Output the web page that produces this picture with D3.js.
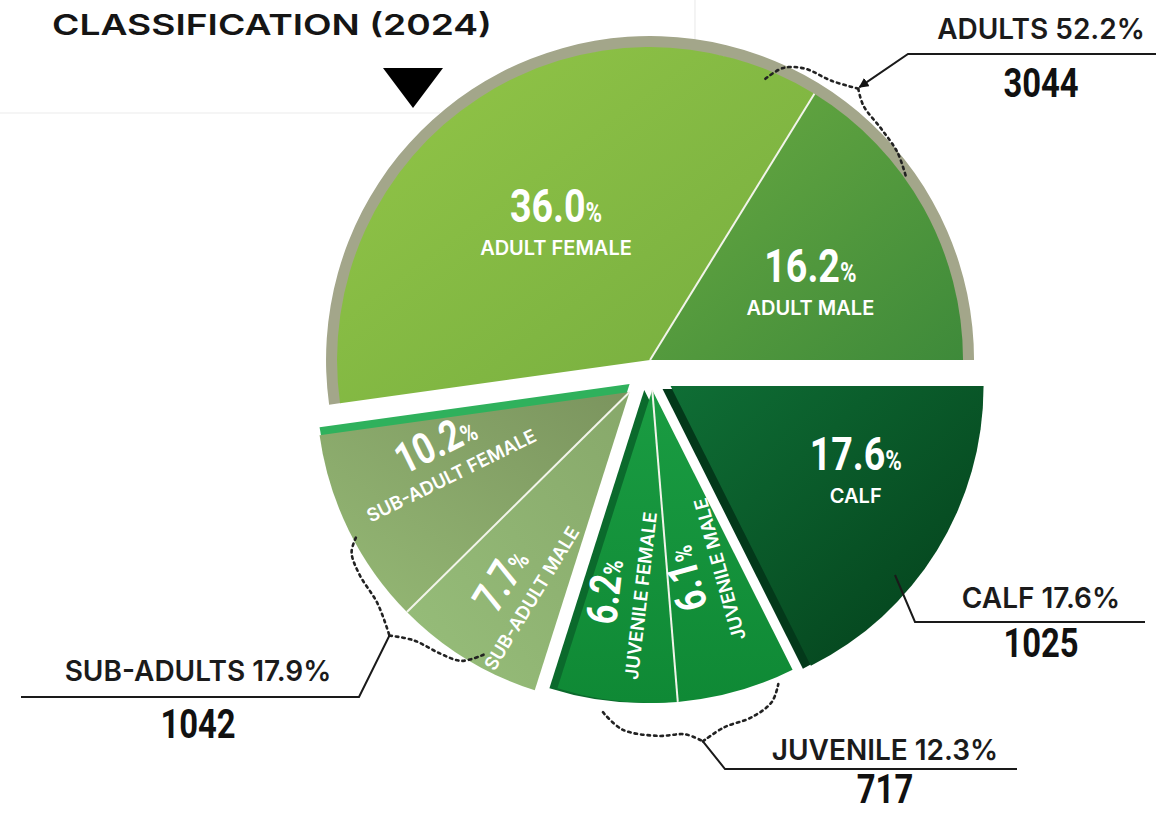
<!DOCTYPE html>
<html>
<head>
<meta charset="utf-8">
<script src="https://cdn.jsdelivr.net/npm/d3@7"></script>
<style>
  html, body { margin: 0; padding: 0; background: #fff; }
  svg { display: block; }
  .cap { font-family: Inter, "Noto Sans", sans-serif; font-weight: 600; }
  .num { font-family: Roboto, "DejaVu Sans Condensed", sans-serif; font-weight: 700; }
</style>
</head>
<body>
<svg id="chart" width="1156" height="814"></svg>
<script>
// ─── DATA ─────────────────────────────────────
const groupNames = ["ADULTS", "CALF", "JUVENILE", "SUB-ADULTS"];
const groupPct   = [52.2, 17.6, 12.3, 17.9];
const groupCount = [3044, 1025, 717, 1042];

// clockwise from the adult female edge
const sliceNames = ["ADULT FEMALE", "ADULT MALE", "CALF", "JUVENILE MALE", "JUVENILE FEMALE", "SUB-ADULT MALE", "SUB-ADULT FEMALE"];
const slicePct   = [36.0, 16.2, 17.6, 6.1, 6.2, 7.7, 10.2];
const sliceGroup = [0, 0, 1, 2, 2, 3, 3];

// ─── LAYOUT / STYLE ───────────────────────────
const W = 1156, H = 814;
const CX = 651, CY = 374, R = 313;
const EXPLODE     = [14, 23, 16, 28];          // group offset along its mid angle
const ROTATE      = [false, false, true, true];
// per slice: label radius as share of R, and a nudge
const LABEL_K     = [0.55, 0.55, 0.62, 0.66, 0.7, 0.72, 0.62];
const LABEL_SHIFT = [[0, 8], [10, 8], [20, -16], [-5, -15], [-4, -14], [5, 5], [-12, -18]];
const RIM = 11;
const NUM_SX = 0.8;                            // condensed look for the figures

const SLICE_GRAD = [
  { c: ["#93c647", "#74ac3f"], v: [0, 0, 1, 1] },
  { c: ["#6aaa41", "#3e8a3a"], v: [0, 0, 1, 1] },
  { c: ["#0f6e35", "#033e1a"], v: [0, 0, 1, 1] },
  { c: ["#1a9c42", "#0f8935"], v: [0, 0, 0, 1] },
  { c: ["#1a9c42", "#0f8935"], v: [0, 0, 0, 1] },
  { c: ["#97be7a", "#87a86a"], v: [0, 1, 1, 0] },
  { c: ["#95b975", "#7b945e"], v: [0, 1, 1, 0] }
];
const SIDE = [
  null,
  { fill: "#03391a", dx: -8, dy: 3 },
  { fill: "#0b6a2c", dx: -8, dy: 0 },
  { fill: "#2fb15c", dx: 0, dy: -8 }
];

// brace shapes: [angleDeg, offset from R] around each group apex (left arm, right arm)
const BRACES = [
  [[[22.3, -9], [24.5, 8], [28, 17], [33, 20], [37.5, 29]], [[37.5, 29], [40, 19], [45, 14], [50, 10], [54.8, 1]]],
  null,
  [[[188.7, 13], [185, 28], [179, 33], [174.5, 33], [171.8, 42]], [[171.8, 42], [168, 32], [163, 29], [159, 21], [156.8, 7]]],
  [[[242, -3], [240, 8], [236, 13], [230, 16], [224.6, 29]], [[224.6, 29], [221, 16], [216, 10], [212, 4], [209, -13]]]
];
const LEADERS = [
  [[908, 54], [1156, 54]],
  [[895, 575], [915, 622], [1145, 622]],
  [[725, 769], [1017, 769]],
  [[359, 697], [21, 697]]
];
const CALLOUT_TXT = [
  { x: 1041, y: 39, ny: 97 },
  { x: 1041, y: 608, ny: 657 },
  { x: 885, y: 760, ny: 803 },
  { x: 198, y: 681, ny: 738 }
];

// ─── SETUP ────────────────────────────────────
const svg = d3.select("#chart").attr("viewBox", `0 0 ${W} ${H}`);
const defs = svg.append("defs");

const startA = Math.PI / 2 - 2 * Math.PI * groupPct[0] / 100;
const pie = d3.pie().sort(null).value(d => d)
  .startAngle(startA).endAngle(startA + 2 * Math.PI);
const slices = pie(slicePct);

const groupArcs = groupNames.map((g, i) => {
  const s = slices.filter((d, j) => sliceGroup[j] === i);
  return { startAngle: d3.min(s, d => d.startAngle), endAngle: d3.max(s, d => d.endAngle) };
});
const polar = (a, r) => [r * Math.sin(a), -r * Math.cos(a)];
const apex = groupArcs.map((g, i) => {
  const [dx, dy] = polar((g.startAngle + g.endAngle) / 2, EXPLODE[i]);
  return [CX + dx, CY + dy];
});
const deg = Math.PI / 180;
const at = (gi, aDeg, off) => {
  const [dx, dy] = polar(aDeg * deg, R + off);
  return [apex[gi][0] + dx, apex[gi][1] + dy];
};

const arc = d3.arc().innerRadius(0).outerRadius(R);

// condensed figure text: group scaled on x only
function numText(parent, x, y, size, fill) {
  return parent.append("g")
    .attr("transform", `translate(${x},${y}) scale(${NUM_SX},1)`)
    .append("text").attr("class", "num").attr("text-anchor", "middle")
    .attr("font-size", size).attr("fill", fill);
}

// faint frame lines of the title box
svg.append("line").attr("x1", 0).attr("x2", 440).attr("y1", 113).attr("y2", 113)
  .attr("stroke", "#ececec").attr("stroke-width", 1.2);
svg.append("line").attr("x1", 695).attr("x2", 695).attr("y1", 0).attr("y2", 58)
  .attr("stroke", "#ececec").attr("stroke-width", 1.2);

// gradients
SLICE_GRAD.forEach((s, i) => {
  const lg = defs.append("linearGradient").attr("id", `grad-${i}`)
    .attr("x1", s.v[0]).attr("y1", s.v[1]).attr("x2", s.v[2]).attr("y2", s.v[3]);
  lg.append("stop").attr("offset", 0).attr("stop-color", s.c[0]);
  lg.append("stop").attr("offset", 1).attr("stop-color", s.c[1]);
});

// arrow marker
defs.append("marker").attr("id", "arrow")
  .attr("viewBox", "0 0 10 10").attr("refX", 9).attr("refY", 5)
  .attr("markerWidth", 5).attr("markerHeight", 5).attr("orient", "auto-start-reverse")
  .append("path").attr("d", "M0,0 L10,5 L0,10 z").attr("fill", "#111");

// ─── PIE ──────────────────────────────────────
const pieG = svg.append("g").attr("class", "pie");

groupArcs.forEach((ga, gi) => {
  const g = pieG.append("g").attr("class", "group").attr("transform", `translate(${apex[gi]})`);

  // 3d side
  if (SIDE[gi]) {
    g.append("path")
      .attr("d", arc(ga))
      .attr("transform", `translate(${SIDE[gi].dx},${SIDE[gi].dy})`)
      .attr("fill", SIDE[gi].fill);
  }
  // adults rim
  if (gi === 0) {
    g.append("path")
      .attr("d", d3.arc().innerRadius(R - 1).outerRadius(R + RIM)(ga))
      .attr("fill", "#a3a68a");
  }

  slices.forEach((d, j) => {
    if (sliceGroup[j] !== gi) return;
    g.append("path").attr("class", "slice").attr("d", arc(d)).attr("fill", `url(#grad-${j})`);
  });

  // white dividers between slices of the same group
  slices.forEach((d, j) => {
    if (sliceGroup[j] !== gi || j === 0 || sliceGroup[j - 1] !== gi) return;
    const [x2, y2] = polar(d.startAngle, R);
    g.append("line").attr("x1", 0).attr("y1", 0).attr("x2", x2).attr("y2", y2)
      .attr("stroke", "#f2f4ea").attr("stroke-width", 2);
  });
});

// slice labels
slices.forEach((d, j) => {
  const gi = sliceGroup[j];
  const m = (d.startAngle + d.endAngle) / 2;
  const [dx, dy] = polar(m, R * LABEL_K[j]);
  const rot = ROTATE[gi] ? Math.atan2(Math.cos(m), -Math.sin(m)) / deg : 0;
  const x = apex[gi][0] + dx + LABEL_SHIFT[j][0];
  const y = apex[gi][1] + dy + LABEL_SHIFT[j][1];
  const g = pieG.append("g").attr("transform", `translate(${x},${y}) rotate(${rot})`);
  const small = ROTATE[gi];
  const t = numText(g, 0, small ? -4 : -2, small ? 43 : 47, "#fff");
  t.append("tspan").text(d.data.toFixed(1));
  t.append("tspan").attr("font-size", small ? 26 : 28).text("%");
  g.append("text").attr("class", "cap").attr("text-anchor", "middle")
    .attr("y", small ? 24 : 31).attr("font-size", small ? 18.5 : 20).attr("fill", "#fff")
    .text(sliceNames[j]);
});

// ─── BRACES + LEADERS ─────────────────────────
const curve = d3.line().curve(d3.curveCatmullRom.alpha(0.5));
BRACES.forEach((b, gi) => {
  if (!b) return;
  b.forEach(armPts => {
    svg.append("path")
      .attr("d", curve(armPts.map(p => at(gi, p[0], p[1]))))
      .attr("fill", "none").attr("stroke", "#222").attr("stroke-width", 2.6)
      .attr("stroke-dasharray", "2.5,4").attr("stroke-linecap", "round");
  });
});

LEADERS.forEach((pts, gi) => {
  let all = pts;
  if (BRACES[gi]) {
    const j = BRACES[gi][1][0];
    all = [at(gi, j[0], j[1] + (gi === 0 ? 2 : 0)), ...pts];
  }
  const p = svg.append("path")
    .attr("d", d3.line()(all))
    .attr("fill", "none").attr("stroke", "#1a1a1a").attr("stroke-width", 2);
  if (gi === 0) p.attr("marker-start", "url(#arrow)");
});

// callout texts
CALLOUT_TXT.forEach((c, gi) => {
  svg.append("text").attr("class", "cap").attr("x", c.x).attr("y", c.y)
    .attr("text-anchor", "middle").attr("font-size", 28).attr("fill", "#1b1b1b")
    .text(`${groupNames[gi]} ${groupPct[gi].toFixed(1)}%`);
  numText(svg, c.x, c.ny, 41, "#111").text(groupCount[gi]);
});

// ─── TITLE ────────────────────────────────────
svg.append("text").attr("x", 52).attr("y", 35)
  .attr("font-family", "Inter, 'Noto Sans', sans-serif").attr("font-weight", 600)
  .attr("font-size", 29).attr("fill", "#151515")
  .attr("textLength", 440).attr("lengthAdjust", "spacingAndGlyphs")
  .text("CLASSIFICATION (2024)");

const tri = d3.path();
tri.moveTo(383, 68); tri.lineTo(443, 68); tri.lineTo(413, 108); tri.closePath();
svg.append("path").attr("d", tri.toString()).attr("fill", "#000");
</script>
</body>
</html>
